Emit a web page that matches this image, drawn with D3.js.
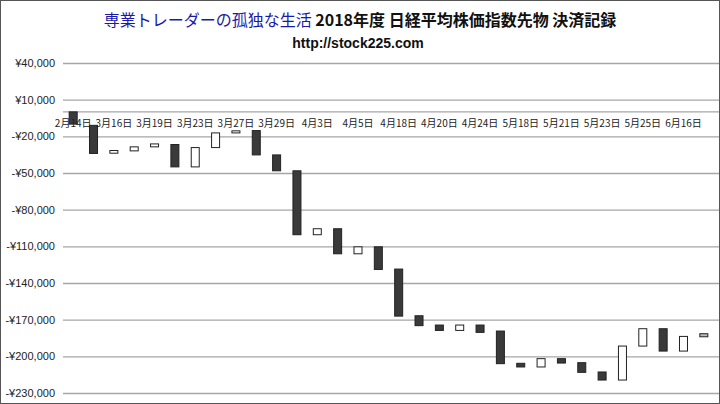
<!DOCTYPE html>
<html><head><meta charset="utf-8">
<script src="https://cdn.jsdelivr.net/npm/d3@7"></script>
<style>body{margin:0;background:#fff}svg{display:block}</style>
</head><body><svg id="c" width="720" height="404"></svg>
<script>
const labels = ["2月14日","","3月16日","","3月19日","","3月23日","","3月27日","","3月29日","","4月3日","","4月5日","","4月18日","","4月20日","","4月24日","","5月18日","","5月21日","","5月23日","","5月25日","","6月16日",""];
const openVals = [0,-11000,-33800,-31900,-28600,-26700,-45000,-29200,-17200,-15300,-35200,-48200,-100500,-95600,-116100,-110400,-128600,-166800,-174400,-178800,-174400,-179300,-205700,-208700,-201900,-205200,-212800,-219400,-191600,-177400,-195700,-184000];
const closeVals = [-10000,-34000,-31600,-28600,-26200,-45000,-29200,-17200,-15500,-35200,-48200,-100500,-95600,-116100,-110400,-128900,-167100,-174900,-178800,-174400,-180400,-206000,-208700,-201900,-205500,-213100,-219400,-191600,-177400,-195700,-183700,-181500];
const yTicks = [40000,10000,-20000,-50000,-80000,-110000,-140000,-170000,-200000,-230000];

const svg = d3.select("#c");
const L=63, R=714, T=63, B=393;
const idx = d3.range(labels.length);
const x = d3.scaleBand().domain(idx).range([L,R]);
const y = d3.scaleLinear().domain([-230000,40000]).range([B,T]);
const fmt = v => (v<0?"-":"")+"¥"+d3.format(",")(Math.abs(v));

svg.append("rect").attr("x",0.5).attr("y",0.5).attr("width",719).attr("height",403).attr("fill","#fff").attr("stroke","#555");

const ax = svg.append("g").attr("transform",`translate(${L},0)`)
  .call(d3.axisLeft(y).tickValues(yTicks).tickSize(-(R-L+5)).tickFormat(fmt));
ax.select(".domain").remove();
ax.selectAll(".tick line").attr("stroke","#a6a6a6").attr("stroke-width",1.3);
ax.selectAll(".tick text").attr("x",-8).attr("font-family","Liberation Sans, Arial, sans-serif").attr("font-size",11).attr("fill","#222");
svg.append("line").attr("x1",L).attr("x2",R+5).attr("y1",y(0)).attr("y2",y(0)).attr("stroke","#a6a6a6").attr("stroke-width",1.3);

const bw = 8;
svg.append("g").selectAll("rect").data(idx).join("rect")
  .attr("x",i=>x(i)+x.bandwidth()/2-bw/2)
  .attr("y",i=>y(Math.max(openVals[i],closeVals[i])))
  .attr("width",bw)
  .attr("height",i=>Math.max(2,Math.abs(y(openVals[i])-y(closeVals[i]))))
  .attr("fill",i=> i===31 ? "#bbb" : (closeVals[i]<openVals[i] ? "#3a3a3a" : "#fff"))
  .attr("stroke","#222").attr("stroke-width",1);

svg.append("g").selectAll("text").data(idx.filter(i=>labels[i])).join("text")
  .attr("x",i=>x(i)+x.bandwidth()/2).attr("y",y(0)+15)
  .attr("text-anchor","middle").attr("font-family","Noto Sans CJK JP, sans-serif").attr("font-size",10).attr("fill","#222")
  .text(i=>labels[i]);

const t = svg.append("text").attr("x",360).attr("y",26).attr("text-anchor","middle")
  .attr("font-family","Noto Sans CJK JP, sans-serif").attr("font-size",16);
t.append("tspan").attr("fill","#1a1aa8").text("専業トレーダーの孤独な生活");
t.append("tspan").attr("fill","#111").attr("font-weight","bold").text("  2018年度  日経平均株価指数先物 決済記録");
svg.append("text").attr("x",358).attr("y",48).attr("text-anchor","middle")
  .attr("font-family","Liberation Sans, Arial, sans-serif").attr("font-weight","bold").attr("font-size",14).attr("fill","#111")
  .text("http://stock225.com");
</script></body></html>
